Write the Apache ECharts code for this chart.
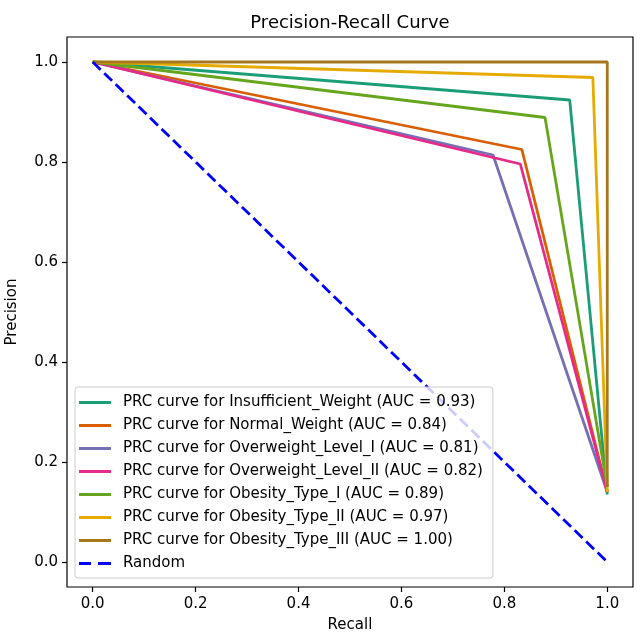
<!DOCTYPE html>
<html>
<head>
<meta charset="utf-8">
<script src="https://cdn.jsdelivr.net/npm/echarts@6/dist/echarts.min.js"></script>
<style>html,body{margin:0;padding:0;background:#fff}#c{width:637px;height:635px}</style>
</head>
<body>
<div id="c"></div>
<script>
var classNames = ['Insufficient_Weight','Normal_Weight','Overweight_Level_I','Overweight_Level_II','Obesity_Type_I','Obesity_Type_II','Obesity_Type_III'];
var aucValues = ['0.93','0.84','0.81','0.82','0.89','0.97','1.00'];
var colors = ['#1b9e77','#d95f02','#7570b3','#e7298a','#66a61e','#e6ab02','#a6761d'];
var recallPts = [
  [0, 0.927, 1],
  [0, 0.834, 1],
  [0, 0.778, 1],
  [0, 0.831, 1],
  [0, 0.879, 1],
  [0, 0.972, 1],
  [0, 1.0, 1]
];
var precisionPts = [
  [1, 0.924, 0.135],
  [1, 0.825, 0.14],
  [1, 0.814, 0.14],
  [1, 0.796, 0.14],
  [1, 0.889, 0.15],
  [1, 0.969, 0.14],
  [1, 1.0, 0.15]
];
var randomX = [0, 1];
var randomY = [1, 0];
var tickValues = [0, 0.2, 0.4, 0.6, 0.8, 1.0];

var solidIcon = 'path://M0,0H32V3H0Z';
var dashIcon = 'path://M0,0H12V3H0Z M19,0H32V3H19Z';

var series = [];
var legendData = [];
for (var i = 0; i < classNames.length; i++) {
  var d = [];
  for (var k = 0; k < recallPts[i].length; k++) d.push([recallPts[i][k], precisionPts[i][k]]);
  var nm = 'PRC curve for ' + classNames[i] + ' (AUC = ' + aucValues[i] + ')';
  legendData.push({name: nm, icon: solidIcon});
  series.push({
    name: nm,
    type: 'line', data: d, symbol: 'none', showSymbol: false,
    lineStyle: {color: colors[i], width: 2.8}, itemStyle: {color: colors[i]},
    animation: false, z: 2
  });
}
legendData.push({name: 'Random', icon: dashIcon});
series.push({
  name: 'Random', type: 'line',
  data: [[randomX[0], randomY[0]], [randomX[1], randomY[1]]],
  symbol: 'none', showSymbol: false,
  lineStyle: {color: '#0000ff', width: 2.8, type: [11, 5]}, itemStyle: {color: '#0000ff'},
  animation: false, z: 3
});

var font = 'DejaVu Sans';
var chart = echarts.init(document.getElementById('c'), null, {renderer: 'canvas'});
chart.setOption({
  animation: false,
  backgroundColor: '#fff',
  title: {
    text: 'Precision-Recall Curve', left: 345, top: 9, textAlign: 'center',
    textStyle: {fontFamily: font, fontSize: 18, fontWeight: 'normal', color: '#000'}
  },
  grid: {left: 67, right: 4, top: 37, bottom: 48, show: true, borderColor: '#000', borderWidth: 1.2,
    containLabel: false, outerBoundsMode: 'none'},
  xAxis: {
    type: 'value', min: -0.05, max: 1.05,
    name: 'Recall', nameLocation: 'middle', nameGap: 31,
    nameTextStyle: {fontFamily: font, fontSize: 15, color: '#000'},
    axisLine: {show: false, onZero: false},
    axisTick: {show: true, inside: false, length: 5, lineStyle: {color: '#000', width: 1.2}, customValues: tickValues},
    axisLabel: {fontFamily: font, fontSize: 15, color: '#000', margin: 10, customValues: tickValues,
      formatter: function (v) { return v.toFixed(1); }},
    splitLine: {show: false}
  },
  yAxis: {
    type: 'value', min: -0.05, max: 1.05,
    name: 'Precision', nameLocation: 'middle', nameGap: 47, nameRotate: 90,
    nameTextStyle: {fontFamily: font, fontSize: 15, color: '#000'},
    axisLine: {show: false, onZero: false},
    axisTick: {show: true, inside: false, length: 5, lineStyle: {color: '#000', width: 1.2}, customValues: tickValues},
    axisLabel: {fontFamily: font, fontSize: 15, color: '#000', margin: 9, customValues: tickValues,
      formatter: function (v) { return v.toFixed(1); }},
    splitLine: {show: false}
  },
  legend: {
    orient: 'vertical', left: 75, top: 387,
    data: legendData,
    itemWidth: 32, itemHeight: 14, itemGap: 8,
    padding: [8, 10, 7, 4],
    backgroundColor: 'rgba(255,255,255,0.8)',
    borderColor: '#cccccc', borderWidth: 1, borderRadius: 3,
    textStyle: {fontFamily: font, fontSize: 15, color: '#000', padding: [0, 0, 0, 7]},
    selectedMode: false
  },
  series: series
});
</script>
</body>
</html>
